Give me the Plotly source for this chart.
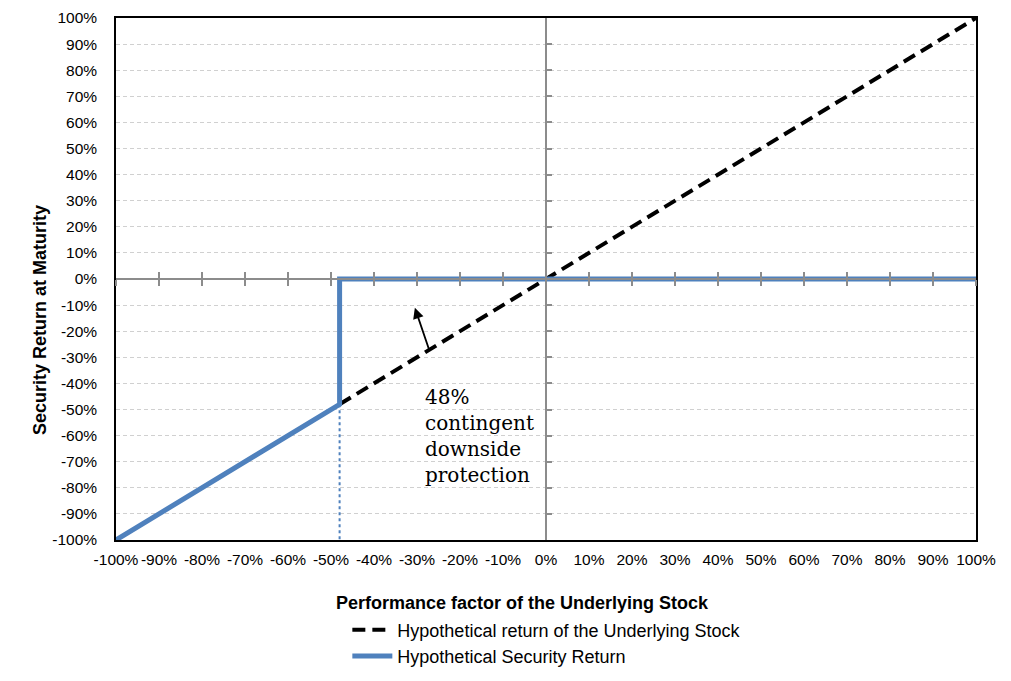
import plotly.graph_objects as go

# Payoff points (percent)
stock_x = [-48, 100]
stock_y = [-48, 100]

security_x = [-100, -48, -48, 100]
security_y = [-100, -48, 0, 0]

barrier_x = [-48, -48]
barrier_y = [-48, -100]

ticks = list(range(-100, 101, 10))
tick_text = ['%d%%' % t for t in ticks]

font_family = 'Liberation Sans, Arial, sans-serif'

stock = go.Scatter(x=stock_x, y=stock_y, mode='lines',
                   name='Hypothetical return of the Underlying Stock',
                   line=dict(color='black', width=4, dash='13px,7px'))
security = go.Scatter(x=security_x, y=security_y, mode='lines',
                      name='Hypothetical Security Return',
                      line=dict(color='#4F81BD', width=5))
barrier = go.Scatter(x=barrier_x, y=barrier_y, mode='lines', showlegend=False,
                     line=dict(color='#4F81BD', width=2, dash='dot'), hoverinfo='skip')

# invisible helpers so the zero-crossing axes get drawn
helper_x2 = go.Scatter(x=stock_x, y=stock_y, xaxis='x2', yaxis='y', mode='none',
                       showlegend=False, hoverinfo='skip')
helper_x3 = go.Scatter(x=stock_x, y=stock_y, xaxis='x3', yaxis='y', mode='none',
                       showlegend=False, hoverinfo='skip')
helper_y2 = go.Scatter(x=stock_x, y=stock_y, xaxis='x', yaxis='y2', mode='none',
                       showlegend=False, hoverinfo='skip')

fig = go.Figure(data=[helper_x2, helper_x3, helper_y2, barrier, stock, security])

zero_axis = dict(range=[-100, 100], tickvals=ticks, showticklabels=False, showgrid=False,
                 zeroline=False, showline=True, linecolor='#8c8c8c', linewidth=2,
                 tickcolor='#8c8c8c', tickwidth=1.5, ticklen=6,
                 anchor='free', position=0.5, automargin=False)

# page body adds an 8px offset, so margins are shifted to compensate
fig.update_layout(
    width=1011, height=681,
    paper_bgcolor='white', plot_bgcolor='white',
    margin=dict(l=108, r=43, t=10, b=149, autoexpand=False),
    font=dict(family=font_family, size=15, color='black'),
    xaxis=dict(range=[-100, 100], tickvals=ticks, ticktext=tick_text, automargin=False,
               showgrid=False, zeroline=False, showline=True, mirror=True,
               linecolor='black', linewidth=1.5, ticks='',
               tickfont=dict(size=15.5), ticklabelstandoff=5),
    yaxis=dict(range=[-100, 100], tickvals=ticks, ticktext=tick_text, automargin=False,
               showgrid=True, gridcolor='#d0d0d0', griddash='4px,3px', gridwidth=1,
               zeroline=False, showline=True, mirror=True,
               linecolor='black', linewidth=1.5, ticks='',
               tickfont=dict(size=15.5), ticklabelstandoff=14),
    xaxis2=dict(zero_axis, overlaying='x', ticks='outside'),
    xaxis3=dict(zero_axis, overlaying='x', ticks='inside'),
    yaxis2=dict(zero_axis, overlaying='y', ticks='inside', ticklen=5),
    legend=dict(x=0.269, y=-0.137, xanchor='left', yanchor='top',
                font=dict(size=18), tracegroupgap=0, itemwidth=40,
                bgcolor='rgba(0,0,0,0)'),
    showlegend=True,
)

# axis titles as annotations (they sit off-centre in the original)
fig.add_annotation(x=0.473, y=-0.1207, xref='paper', yref='paper',
                   xanchor='center', yanchor='middle', showarrow=False,
                   text='<b>Performance factor of the Underlying Stock</b>',
                   font=dict(size=18))
fig.add_annotation(x=-0.0884, y=0.4215, xref='paper', yref='paper',
                   xanchor='center', yanchor='middle', showarrow=False, textangle=-90,
                   text='<b>Security Return at Maturity</b>',
                   font=dict(size=18))

fig.add_annotation(x=-30.5, y=-11, ax=-27, ay=-28, xref='x', yref='y',
                   axref='x', ayref='y', text='', showarrow=True,
                   arrowhead=2, arrowsize=1.2, arrowwidth=1.8, arrowcolor='black')
fig.add_annotation(x=-28.6, y=-40, xref='x', yref='y', xanchor='left', yanchor='top',
                   align='left', showarrow=False,
                   text='48%<br>contingent<br>downside<br>protection',
                   font=dict(family='DejaVu Serif, Liberation Serif, serif', size=20))

fig.write_html('out.html')
